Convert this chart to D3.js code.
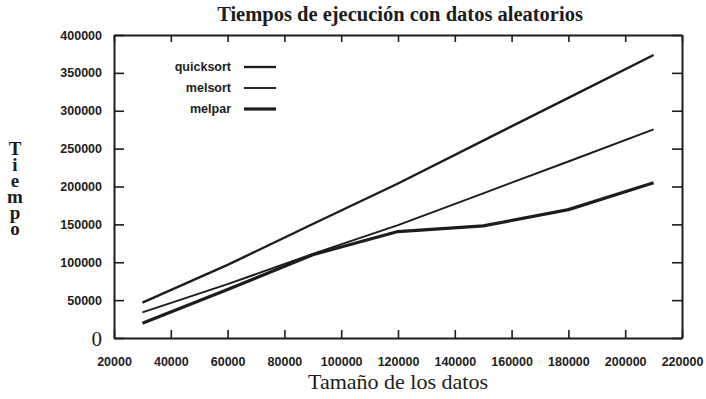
<!DOCTYPE html>
<html>
<head>
<meta charset="utf-8">
<script src="https://cdn.jsdelivr.net/npm/d3@7"></script>
<style>
  body { margin: 0; background: #fff; }
  svg { display: block; }
</style>
</head>
<body>
<div id="chart"></div>
<script>
const sizes = [30000, 60000, 90000, 120000, 150000, 180000, 210000]
const quicksort = [46600, 96500, 150500, 204000, 260500, 317000, 373600]
const melsort = [33900, 71000, 111000, 149000, 191000, 233000, 275500]
const melpar = [19400, 64000, 110000, 140500, 148000, 169500, 205000]

const seriesNames = ['quicksort', 'melsort', 'melpar']
const xTicks = [20000, 40000, 60000, 80000, 100000, 120000, 140000, 160000, 180000, 200000, 220000]
const yTicks = [0, 50000, 100000, 150000, 200000, 250000, 300000, 350000, 400000]

const width = 706
const height = 399
const margin = { top: 35, right: 24, bottom: 61, left: 114 }
const ink = '#1c1c1c'

let svg = d3.select('#chart').append('svg')
    .attr('width', width)
    .attr('height', height)

let x = d3.scaleLinear()
    .domain([20000, 220000])
    .range([margin.left, width - margin.right])

let y = d3.scaleLinear()
    .domain([0, 400000])
    .range([height - margin.bottom, margin.top])

// ejes: marcas hacia dentro, como el original
let axisB = svg.append('g')
    .attr('transform', `translate(0,${y(0)})`)
    .call(d3.axisBottom(x).tickValues(xTicks).tickFormat(d3.format('d'))
        .tickSizeInner(-8).tickSizeOuter(0).tickPadding(19))

let axisT = svg.append('g')
    .attr('transform', `translate(0,${y(400000)})`)
    .call(d3.axisTop(x).tickValues(xTicks).tickFormat('')
        .tickSizeInner(-7).tickSizeOuter(0))

let axisL = svg.append('g')
    .attr('transform', `translate(${x(20000)},0)`)
    .call(d3.axisLeft(y).tickValues(yTicks).tickFormat(d3.format('d'))
        .tickSizeInner(-10).tickSizeOuter(0).tickPadding(12))

let axisR = svg.append('g')
    .attr('transform', `translate(${x(220000)},0)`)
    .call(d3.axisRight(y).tickValues(yTicks).tickFormat('')
        .tickSizeInner(-10).tickSizeOuter(0))

svg.selectAll('.domain')
    .attr('stroke', ink)
    .attr('stroke-width', 2)
svg.selectAll('.tick line')
    .attr('stroke', ink)
    .attr('stroke-width', 1.6)
svg.selectAll('.tick text')
    .attr('fill', ink)
    .style('font-family', '"Liberation Sans", Arial, sans-serif')
    .style('font-weight', 'bold')
    .style('font-size', '12.5px')

// el cero del eje y va en letra grande con serifa
axisL.selectAll('.tick text')
    .filter(d => d === 0)
    .style('font-family', '"Liberation Serif", "DejaVu Serif", serif')
    .style('font-weight', 'normal')
    .style('font-size', '21px')
    .attr('dy', '0.36em')

// series
let data = [quicksort, melsort, melpar]
let widths = [2.4, 1.9, 3.2]

let line = d3.line()
    .x((d, i) => x(sizes[i]))
    .y(d => y(d))

svg.selectAll('path.serie')
    .data(data)
    .enter()
    .append('path')
    .attr('class', 'serie')
    .attr('d', line)
    .style('fill', 'none')
    .style('stroke', ink)
    .style('stroke-width', (d, i) => widths[i])
    .style('stroke-linejoin', 'round')

// leyenda
let legend = svg.append('g')
    .selectAll('g')
    .data(seriesNames)
    .enter()
    .append('g')
    .attr('transform', (d, i) => `translate(0,${67 + i * 21})`)

legend.append('text')
    .attr('x', 231)
    .attr('dy', '0.35em')
    .attr('text-anchor', 'end')
    .style('font-family', '"Liberation Sans", Arial, sans-serif')
    .style('font-weight', 'bold')
    .style('font-size', '12.5px')
    .attr('fill', ink)
    .text(d => d)

legend.append('line')
    .attr('x1', 244)
    .attr('x2', 276)
    .attr('stroke', ink)
    .attr('stroke-width', (d, i) => widths[i])

// títulos
svg.append('text')
    .attr('x', 400)
    .attr('y', 21)
    .attr('text-anchor', 'middle')
    .style('font-family', '"Liberation Serif", "DejaVu Serif", serif')
    .style('font-weight', 'bold')
    .style('font-size', '20.5px')
    .attr('fill', ink)
    .text('Tiempos de ejecución con datos aleatorios')

svg.append('text')
    .attr('x', 398)
    .attr('y', 389)
    .attr('text-anchor', 'middle')
    .style('font-family', '"Liberation Serif", "DejaVu Serif", serif')
    .style('font-size', '22px')
    .attr('fill', ink)
    .text('Tamaño de los datos')

// "Tiempo" en vertical, letras de pie una debajo de otra
svg.append('text')
    .attr('x', 15)
    .attr('y', 138)
    .style('writing-mode', 'vertical-rl')
    .style('text-orientation', 'upright')
    .style('letter-spacing', '-5px')
    .style('font-family', '"Liberation Serif", "DejaVu Serif", serif')
    .style('font-weight', 'bold')
    .style('font-size', '19px')
    .attr('fill', ink)
    .text('Tiempo')
</script>
</body>
</html>
